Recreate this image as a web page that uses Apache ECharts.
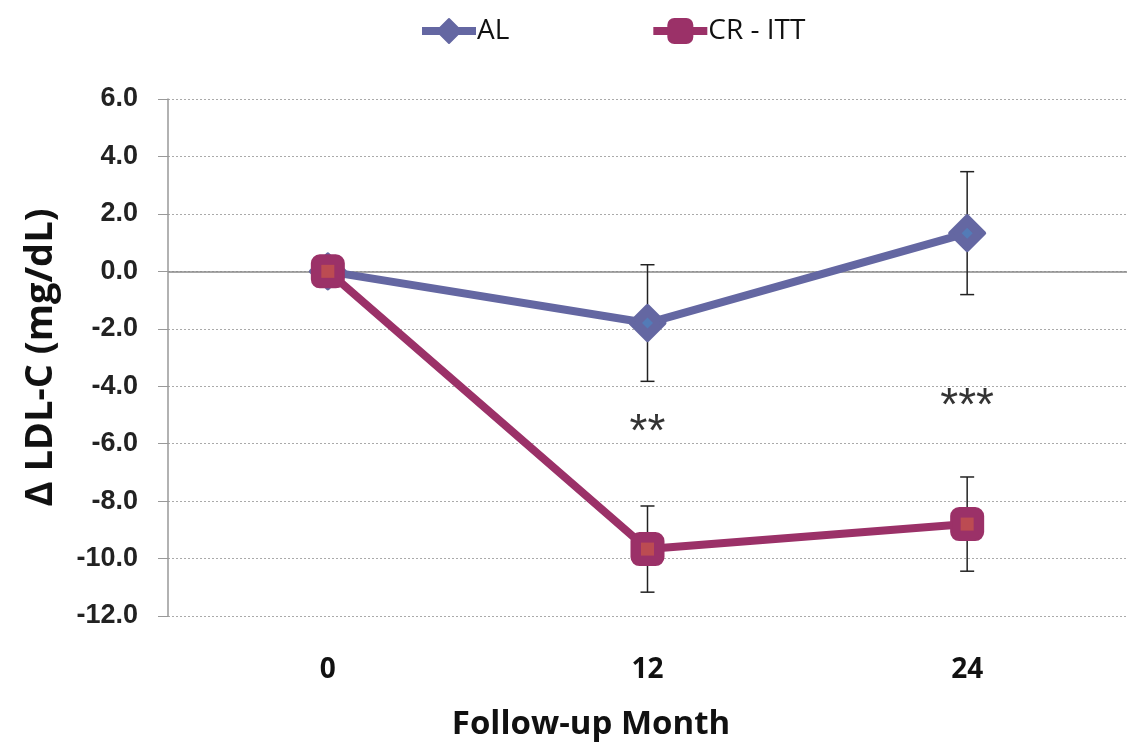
<!DOCTYPE html>
<html>
<head>
<meta charset="utf-8">
<script src="https://cdn.jsdelivr.net/npm/echarts@6/dist/echarts.min.js"></script>
<style>
  html, body { margin: 0; padding: 0; background: #fff; }
  #chart { width: 1135px; height: 746px; }
</style>
</head>
<body>
<div id="chart"></div>
<script>
// Follow-up months (categories)
const months = ['0', '12', '24'];
// Mean change in LDL-C (mg/dL) per group
const alMean = [0, -1.8, 1.33];
const crMean = [0, -9.67, -8.8];
// Error bar half-widths (mg/dL)
const alErr = [0, 2.03, 2.14];
const crErr = [0, 1.5, 1.64];
// Significance markers: [month index, y position, text]
const sigMarks = [[1, -5.65, '**'], [2, -4.72, '***']];
// Y axis range
const yMin = -12, yMax = 6, yStep = 2;

const AL_COLOR = '#6467A2';
const AL_INNER = '#4F81BD';
const CR_COLOR = '#9B3168';
const CR_INNER = '#C4524C';

function errData(mean, err) {
  return mean.map((m, i) => [i, m - err[i], m + err[i]]).filter((d, i) => err[i] > 0);
}

function errRender(params, api) {
  const x = api.value(0);
  const lo = api.coord([x, api.value(1)]);
  const hi = api.coord([x, api.value(2)]);
  const cap = 7;
  const style = { stroke: '#222', lineWidth: 1.5 };
  return {
    type: 'group',
    children: [
      { type: 'line', shape: { x1: lo[0], y1: lo[1], x2: hi[0], y2: hi[1] }, style },
      { type: 'line', shape: { x1: lo[0] - cap, y1: lo[1], x2: lo[0] + cap, y2: lo[1] }, style },
      { type: 'line', shape: { x1: hi[0] - cap, y1: hi[1], x2: hi[0] + cap, y2: hi[1] }, style }
    ]
  };
}

const chart = echarts.init(document.getElementById('chart'));
chart.setOption({
  animation: false,
  backgroundColor: '#fff',
  grid: { left: 168, right: 8, top: 99, bottom: 130, containLabel: false, outerBoundsMode: 'none' },
  legend: {
    top: 12,
    left: 413,
    itemWidth: 54,
    itemHeight: 30,
    itemGap: 140,
    data: ['AL', 'CR - ITT'],
    lineStyle: { width: 8 },
    textStyle: { fontFamily: 'Open Sans', fontSize: 28, color: '#111', padding: [0, 0, 0, -4] }
  },
  xAxis: {
    type: 'category',
    data: months,
    boundaryGap: true,
    axisLine: { show: false },
    axisTick: { show: false },
    axisLabel: {
      margin: 40,
      fontFamily: 'Open Sans',
      fontWeight: 'bold',
      fontSize: 28,
      color: '#111'
    },
    splitLine: { show: false }
  },
  yAxis: {
    type: 'value',
    min: yMin,
    max: yMax,
    interval: yStep,
    name: '\u0394 LDL-C (mg/dL)',
    nameLocation: 'middle',
    nameGap: 108,
    nameTextStyle: {
      fontFamily: 'Open Sans',
      fontWeight: 'bold',
      fontSize: 38,
      color: '#111'
    },
    axisLine: { show: true, lineStyle: { color: '#999', width: 1.5 } },
    axisTick: { show: true, inside: false, length: 10, lineStyle: { color: '#999', width: 1 } },
    axisLabel: {
      margin: 30,
      fontFamily: 'Liberation Sans',
      fontWeight: 'bold',
      fontSize: 27,
      color: '#222',
      formatter: v => v.toFixed(1)
    },
    splitLine: { show: true, lineStyle: { color: '#aaa', type: [2, 2], width: 1 } }
  },
  graphic: [
    {
      type: 'text',
      x: 591, y: 725,
      style: {
        text: 'Follow-up Month',
        align: 'center', verticalAlign: 'middle',
        font: 'bold 33px "Open Sans"',
        fill: '#111'
      }
    }
  ],
  series: [
    {
      name: 'AL err',
      type: 'custom',
      renderItem: errRender,
      data: errData(alMean, alErr),
      z: 1,
      silent: true
    },
    {
      name: 'CR err',
      type: 'custom',
      renderItem: errRender,
      data: errData(crMean, crErr),
      z: 1,
      silent: true
    },
    {
      name: 'AL',
      type: 'line',
      data: alMean,
      symbol: 'diamond',
      symbolSize: 34,
      lineStyle: { color: AL_COLOR, width: 8 },
      itemStyle: { color: AL_COLOR, borderColor: AL_COLOR, borderWidth: 4, borderJoin: 'round' },
      z: 3,
      markLine: {
        silent: true,
        symbol: 'none',
        label: { show: false },
        lineStyle: { color: '#888', type: 'solid', width: 1.5 },
        data: [{ yAxis: 0 }],
        z: 0
      }
    },
    {
      name: 'AL inner',
      type: 'scatter',
      data: alMean.map((v, i) => [i, v]),
      symbol: 'diamond',
      symbolSize: 11,
      itemStyle: { color: AL_INNER },
      z: 4,
      silent: true
    },
    {
      name: 'CR - ITT',
      type: 'line',
      data: crMean,
      symbol: 'roundRect',
      symbolSize: 32,
      lineStyle: { color: CR_COLOR, width: 8 },
      itemStyle: { color: CR_COLOR, borderColor: CR_COLOR, borderWidth: 2 },
      z: 5
    },
    {
      name: 'CR inner',
      type: 'scatter',
      data: crMean.map((v, i) => [i, v]),
      symbol: 'rect',
      symbolSize: 13,
      itemStyle: { color: CR_INNER },
      z: 6,
      silent: true
    },
    {
      name: 'sig',
      type: 'scatter',
      data: sigMarks.map(d => ({ value: [d[0], d[1]], label: { formatter: d[2] } })),
      symbolSize: 0,
      label: {
        show: true,
        position: 'inside',
        fontFamily: 'Liberation Sans',
        fontSize: 46,
        color: '#000'
      },
      z: 7,
      silent: true
    }
  ]
});
</script>
</body>
</html>
